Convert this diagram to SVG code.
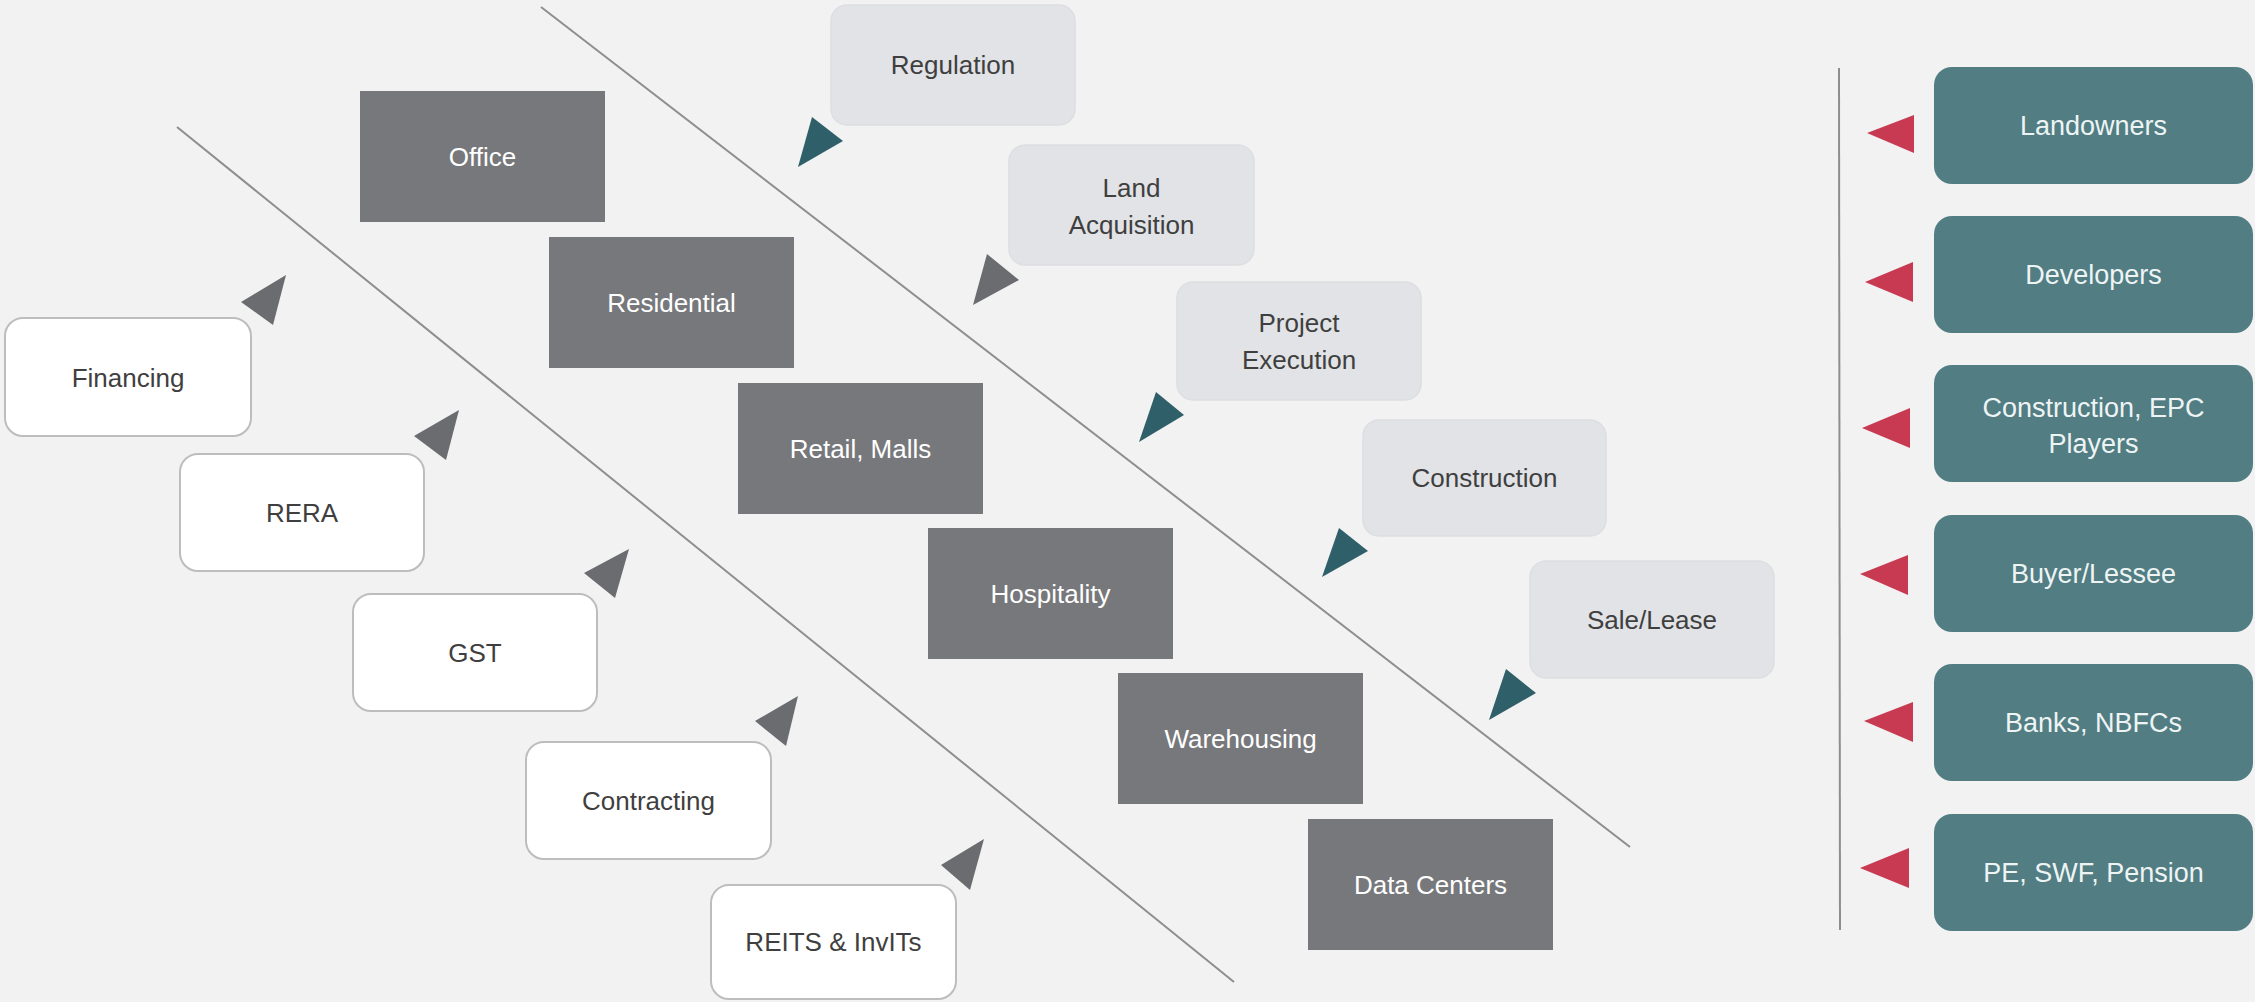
<svg xmlns="http://www.w3.org/2000/svg" width="2255" height="1002" viewBox="0 0 2255 1002">
<style>
.bg{fill:#f2f2f2}
.dark rect{fill:#77787b}
.dark text{fill:#ffffff}
.light rect{fill:#e1e3e6;stroke:#dcdee1;stroke-width:1.5}
.light text,.white text{fill:#3f3f3f}
.white rect{fill:#ffffff;stroke:#bdbdbd;stroke-width:2}
.teal rect{fill:#517d83}
.teal text{fill:#eef4f4;font-size:27px}
text{font-family:"Liberation Sans",Arial,sans-serif;font-size:26px;text-anchor:middle}
.line{stroke:#8e8e8e;stroke-width:2;fill:none}
.tg{fill:#6b6c6f}
.tt{fill:#2f5f69}
.tr{fill:#c83a52}
</style>
<rect class="bg" x="0" y="0" width="2255" height="1002"/>

<g id="connectors">
<line class="line" x1="177" y1="127" x2="1234" y2="982"/>
<line class="line" x1="541" y1="7" x2="1630" y2="847"/>
<line class="line" x1="1839" y1="68" x2="1840" y2="930"/>
<polygon class="tg" points="286,275 241,302 273,325"/>
<polygon class="tg" points="459,410 414,436 446,460"/>
<polygon class="tg" points="629,549 584,573 615,598"/>
<polygon class="tg" points="798,696 755,721 786,746"/>
<polygon class="tg" points="984,839 941,865 970,890"/>
<polygon class="tt" points="812,117 843,141 798,167"/>
<polygon class="tg" points="987,254 1019,280 973,305"/>
<polygon class="tt" points="1156,392 1184,415 1139,442"/>
<polygon class="tt" points="1339,528 1368,551 1322,577"/>
<polygon class="tt" points="1506,669 1536,693 1489,720"/>
<polygon class="tr" points="1867,133 1914,115 1914,153"/>
<polygon class="tr" points="1865,282 1913,262 1913,302"/>
<polygon class="tr" points="1862,428 1910,408 1910,448"/>
<polygon class="tr" points="1860,574 1908,555 1908,595"/>
<polygon class="tr" points="1864,721 1913,702 1913,742"/>
<polygon class="tr" points="1860,868 1909,848 1909,888"/>
</g>

<g id="office" class="dark"><rect x="360" y="91" width="245" height="131"/><text x="482.5" y="165.5">Office</text></g>
<g id="residential" class="dark"><rect x="549" y="237" width="245" height="131"/><text x="671.5" y="311.5">Residential</text></g>
<g id="retail" class="dark"><rect x="738" y="383" width="245" height="131"/><text x="860.5" y="457.5">Retail, Malls</text></g>
<g id="hospitality" class="dark"><rect x="928" y="528" width="245" height="131"/><text x="1050.5" y="602.5">Hospitality</text></g>
<g id="warehousing" class="dark"><rect x="1118" y="673" width="245" height="131"/><text x="1240.5" y="747.5">Warehousing</text></g>
<g id="datacenters" class="dark"><rect x="1308" y="819" width="245" height="131"/><text x="1430.5" y="893.5">Data Centers</text></g>

<g id="regulation" class="light"><rect x="831" y="5" width="244" height="120" rx="16"/><text x="953" y="74">Regulation</text></g>
<g id="land" class="light"><rect x="1009" y="145" width="245" height="120" rx="16"/><text x="1131.5" y="197">Land</text><text x="1131.5" y="234">Acquisition</text></g>
<g id="project" class="light"><rect x="1177" y="282" width="244" height="118" rx="16"/><text x="1299" y="332">Project</text><text x="1299" y="369">Execution</text></g>
<g id="construction" class="light"><rect x="1363" y="420" width="243" height="116" rx="16"/><text x="1484.5" y="487">Construction</text></g>
<g id="salelease" class="light"><rect x="1530" y="561" width="244" height="117" rx="16"/><text x="1652" y="628.5">Sale/Lease</text></g>

<g id="financing" class="white"><rect x="5" y="318" width="246" height="118" rx="18"/><text x="128" y="387">Financing</text></g>
<g id="rera" class="white"><rect x="180" y="454" width="244" height="117" rx="18"/><text x="302" y="521.5">RERA</text></g>
<g id="gst" class="white"><rect x="353" y="594" width="244" height="117" rx="18"/><text x="475" y="661.5">GST</text></g>
<g id="contracting" class="white"><rect x="526" y="742" width="245" height="117" rx="18"/><text x="648.5" y="809.5">Contracting</text></g>
<g id="reits" class="white"><rect x="711" y="885" width="245" height="114" rx="18"/><text x="833.5" y="951">REITS &amp; InvITs</text></g>

<g id="landowners" class="teal"><rect x="1934" y="67" width="319" height="117" rx="18"/><text x="2093.5" y="135">Landowners</text></g>
<g id="developers" class="teal"><rect x="1934" y="216" width="319" height="117" rx="18"/><text x="2093.5" y="284">Developers</text></g>
<g id="epc" class="teal"><rect x="1934" y="365" width="319" height="117" rx="18"/><text x="2093.5" y="417">Construction, EPC</text><text x="2093.5" y="453">Players</text></g>
<g id="buyer" class="teal"><rect x="1934" y="515" width="319" height="117" rx="18"/><text x="2093.5" y="583">Buyer/Lessee</text></g>
<g id="banks" class="teal"><rect x="1934" y="664" width="319" height="117" rx="18"/><text x="2093.5" y="732">Banks, NBFCs</text></g>
<g id="pe" class="teal"><rect x="1934" y="814" width="319" height="117" rx="18"/><text x="2093.5" y="882">PE, SWF, Pension</text></g>
</svg>
